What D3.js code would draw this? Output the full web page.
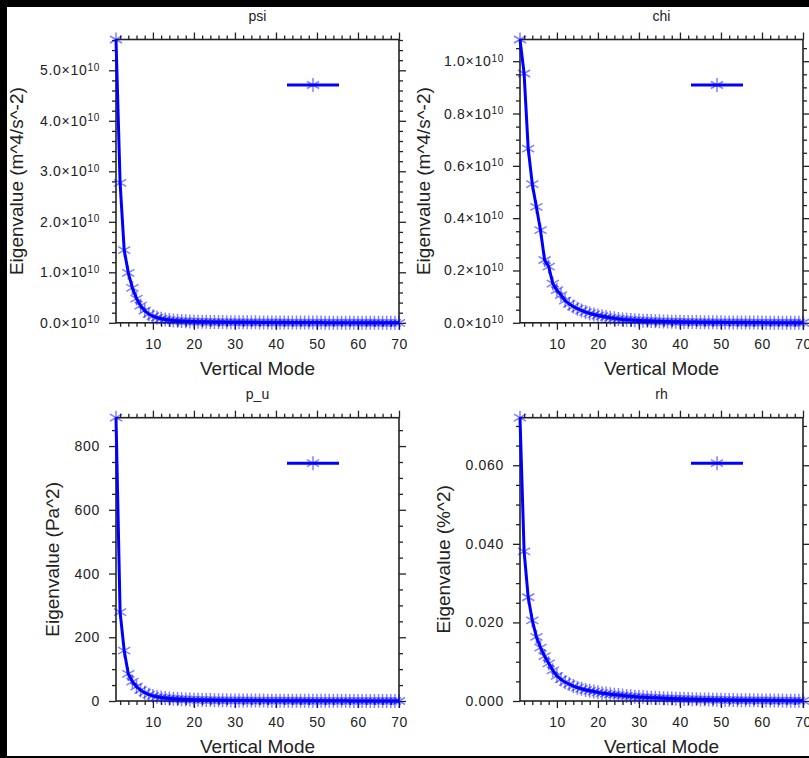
<!DOCTYPE html>
<html>
<head>
<meta charset="utf-8">
<script src="https://cdn.jsdelivr.net/npm/d3@7"></script>
<style>
  body { margin: 0; background: #000; }
  svg { display: block; }
  text { font-family: "Liberation Sans", Arial, Helvetica, sans-serif; fill: #222; }
</style>
</head>
<body>
<svg id="chart" width="809" height="758"></svg>
<script>
// vertical mode numbers 1..70
const modes = d3.range(1, 71);

// eigenvalues (70 per variable)
const psiValues = [
  5.61e10, 2.77e10, 1.44e10, 0.99e10, 0.69e10, 0.48e10, 0.34e10, 0.24e10, 0.17e10, 0.13e10,
  0.10e10, 0.080e10, 0.065e10, 0.054e10, 0.046e10, 0.040e10, 0.035e10, 0.031e10, 0.028e10, 0.025e10,
  0.023e10, 0.021e10, 0.019e10, 0.017e10, 0.016e10, 0.015e10, 0.014e10, 0.013e10, 0.012e10, 0.011e10,
  0.0105e10, 0.010e10, 0.0095e10, 0.009e10, 0.0085e10, 0.008e10, 0.0076e10, 0.0072e10, 0.0068e10, 0.0064e10,
  0.006e10, 0.0057e10, 0.0054e10, 0.0051e10, 0.0048e10, 0.0045e10, 0.0043e10, 0.0041e10, 0.0039e10, 0.0037e10,
  0.0035e10, 0.0033e10, 0.0031e10, 0.0029e10, 0.0027e10, 0.0025e10, 0.0023e10, 0.0021e10, 0.0019e10, 0.0017e10,
  0.0015e10, 0.0013e10, 0.0011e10, 0.0009e10, 0.0007e10, 0.0005e10, 0.0004e10, 0.0003e10, 0.0002e10, 0.0001e10
];
const chiValues = [
  1.083e10, 0.953e10, 0.666e10, 0.530e10, 0.443e10, 0.354e10, 0.240e10, 0.215e10, 0.150e10, 0.125e10,
  0.106e10, 0.085e10, 0.072e10, 0.062e10, 0.054e10, 0.047e10, 0.041e10, 0.036e10, 0.032e10, 0.028e10,
  0.025e10, 0.022e10, 0.019e10, 0.017e10, 0.015e10, 0.013e10, 0.012e10, 0.011e10, 0.010e10, 0.009e10,
  0.0082e10, 0.0075e10, 0.0068e10, 0.0062e10, 0.0057e10, 0.0052e10, 0.0048e10, 0.0044e10, 0.0040e10, 0.0037e10,
  0.0034e10, 0.0031e10, 0.0029e10, 0.0027e10, 0.0025e10, 0.0023e10, 0.0021e10, 0.0019e10, 0.0018e10, 0.0017e10,
  0.0016e10, 0.0015e10, 0.0014e10, 0.0013e10, 0.0012e10, 0.0011e10, 0.0010e10, 0.0009e10, 0.0008e10, 0.0007e10,
  0.0006e10, 0.00055e10, 0.0005e10, 0.00045e10, 0.0004e10, 0.00035e10, 0.0003e10, 0.00025e10, 0.0002e10, 0.00015e10
];
const puValues = [
  889, 279, 158, 85, 61, 45, 34, 26, 20, 16,
  13, 11, 9.5, 8.2, 7.1, 6.2, 5.5, 4.9, 4.4, 4.0,
  3.6, 3.3, 3.0, 2.8, 2.6, 2.4, 2.2, 2.05, 1.9, 1.8,
  1.7, 1.6, 1.5, 1.42, 1.35, 1.28, 1.21, 1.15, 1.09, 1.03,
  0.98, 0.93, 0.88, 0.84, 0.80, 0.76, 0.72, 0.68, 0.65, 0.62,
  0.59, 0.56, 0.53, 0.50, 0.47, 0.44, 0.41, 0.38, 0.35, 0.32,
  0.29, 0.26, 0.23, 0.20, 0.17, 0.14, 0.11, 0.08, 0.05, 0.02
];
const rhValues = [
  0.0721, 0.0381, 0.0264, 0.0205, 0.0163, 0.0136, 0.0114, 0.0096, 0.0078, 0.0064,
  0.0055, 0.0048, 0.0043, 0.0038, 0.0034, 0.0031, 0.0028, 0.0026, 0.0024, 0.0022,
  0.0020, 0.0019, 0.0017, 0.0016, 0.0015, 0.0014, 0.0013, 0.0012, 0.0011, 0.0010,
  0.00095, 0.0009, 0.00085, 0.0008, 0.00075, 0.0007, 0.00066, 0.00062, 0.00058, 0.00055,
  0.00052, 0.00049, 0.00046, 0.00043, 0.0004, 0.00038, 0.00036, 0.00034, 0.00032, 0.0003,
  0.00028, 0.00026, 0.00024, 0.00022, 0.0002, 0.00019, 0.00018, 0.00017, 0.00016, 0.00015,
  0.00014, 0.00013, 0.00012, 0.00011, 0.0001, 0.00009, 0.00008, 0.00007, 0.00006, 0.00005
];

// axis ticks
const xTicks = [10, 20, 30, 40, 50, 60, 70];
const psiTicks = [0, 1e10, 2e10, 3e10, 4e10, 5e10];
const chiTicks = [0, 0.2e10, 0.4e10, 0.6e10, 0.8e10, 1.0e10];
const puTicks = [0, 200, 400, 600, 800];
const rhTicks = [0, 0.02, 0.04, 0.06];

const panels = [
  { title: "psi", ylabel: "Eigenvalue (m^4/s^-2)", values: psiValues, ticks: psiTicks,
    minorStep: 0.2e10, fmt: d => (d / 1e10).toFixed(1), sup: true,
    left: 116, top: 39.5, labelX: 23 },
  { title: "chi", ylabel: "Eigenvalue (m^4/s^-2)", values: chiValues, ticks: chiTicks,
    minorStep: 0.05e10, fmt: d => (d / 1e10).toFixed(1), sup: true,
    left: 520, top: 39.5, labelX: 429.5 },
  { title: "p_u", ylabel: "Eigenvalue (Pa^2)", values: puValues, ticks: puTicks,
    minorStep: 50, fmt: d => d3.format("d")(d), sup: false,
    left: 116, top: 417.7, labelX: 58.5 },
  { title: "rh", ylabel: "Eigenvalue (%^2)", values: rhValues, ticks: rhTicks,
    minorStep: 0.005, fmt: d => d.toFixed(3), sup: false,
    left: 520, top: 417.7, labelX: 450 }
];

const W = 283, H = 283.3;
const svg = d3.select("#chart");

// black surround and white page
svg.append("rect").attr("width", 809).attr("height", 758).attr("fill", "#000");
svg.append("rect").attr("x", 7).attr("y", 7).attr("width", 802).attr("height", 749).attr("fill", "#fff");

// asterisk marker
const r = 7, c30 = Math.cos(Math.PI / 6) * r, s30 = Math.sin(Math.PI / 6) * r;
const star = `M0,${-r}L0,${r}M${-c30},${-s30}L${c30},${s30}M${-c30},${s30}L${c30},${-s30}`;

panels.forEach(p => {
  const g = svg.append("g").attr("transform", `translate(${p.left},${p.top})`);
  const x = d3.scaleLinear().domain([1, 70]).range([0, W]);
  const y = d3.scaleLinear().domain([0, d3.max(p.values)]).range([H, 0]);
  const xMinor = d3.range(2, 71, 2).filter(v => v % 10 !== 0);
  const yMinor = d3.range(0, d3.max(p.values), p.minorStep).filter(v => !p.ticks.some(t => Math.abs(t - v) < p.minorStep / 10));

  const style = sel => {
    sel.select(".domain").remove();
    sel.selectAll("line").attr("stroke", "#222").attr("stroke-width", 1.3);
  };

  // minor ticks
  g.append("g").attr("transform", `translate(0,${H})`).call(d3.axisBottom(x).tickValues(xMinor).tickSize(4).tickFormat("")).call(style);
  g.append("g").call(d3.axisTop(x).tickValues(xMinor).tickSize(4).tickFormat("")).call(style);
  g.append("g").call(d3.axisLeft(y).tickValues(yMinor).tickSize(4).tickFormat("")).call(style);
  g.append("g").attr("transform", `translate(${W},0)`).call(d3.axisRight(y).tickValues(yMinor).tickSize(4).tickFormat("")).call(style);

  // major ticks
  const xb = g.append("g").attr("transform", `translate(0,${H})`)
    .call(d3.axisBottom(x).tickValues(xTicks).tickSize(7).tickPadding(9)).call(style);
  xb.selectAll("text").style("font-size", "14px").style("letter-spacing", "0.5px").attr("fill", "#333");
  g.append("g").call(d3.axisTop(x).tickValues(xTicks).tickSize(7).tickFormat("")).call(style);
  g.append("g").attr("transform", `translate(${W},0)`).call(d3.axisRight(y).tickValues(p.ticks).tickSize(7).tickFormat("")).call(style);
  const yl = g.append("g").call(d3.axisLeft(y).tickValues(p.ticks).tickSize(7).tickPadding(9).tickFormat(p.fmt)).call(style);
  yl.selectAll("text").style("font-size", "14px").style("letter-spacing", "0.7px").attr("fill", "#333");
  if (p.sup) {
    yl.selectAll("text").each(function () {
      const t = d3.select(this);
      const m = t.text();
      t.text(m + "\u00d710");
      t.append("tspan").attr("dy", "-0.45em").style("font-size", "10px").text("10");
    });
  }

  // frame
  g.append("rect").attr("width", W).attr("height", H)
    .attr("fill", "none").attr("stroke", "#222").attr("stroke-width", 1.6);

  // curve
  const pts = modes.map((m, i) => [m, p.values[i]]);
  g.append("path").datum(pts)
    .attr("fill", "none").attr("stroke", "#0000ff").attr("stroke-width", 3)
    .attr("stroke-linejoin", "round")
    .attr("d", d3.line().x(d => x(d[0])).y(d => y(d[1])));

  g.selectAll(".mk").data(pts).join("path")
    .attr("transform", d => `translate(${x(d[0])},${y(d[1])})`)
    .attr("d", star).attr("stroke", "#0000ff").attr("stroke-opacity", 0.5)
    .attr("stroke-width", 1.5).attr("fill", "none");

  // legend (no label text)
  const lg = g.append("g").attr("transform", `translate(171,45.5)`);
  lg.append("line").attr("x1", 0).attr("x2", 52).attr("stroke", "#0000ff").attr("stroke-width", 3);
  lg.append("path").attr("transform", "translate(26,0)").attr("d", star)
    .attr("stroke", "#0000ff").attr("stroke-opacity", 0.5).attr("stroke-width", 1.5);

  // title and axis labels
  g.append("text").attr("x", W / 2).attr("y", -19).attr("text-anchor", "middle")
    .style("font-size", "14px").text(p.title);
  g.append("text").attr("x", W / 2).attr("y", H + 52).attr("text-anchor", "middle")
    .style("font-size", "19px").text("Vertical Mode");
  svg.append("text").attr("transform", `translate(${p.labelX},${p.top + H / 2}) rotate(-90)`)
    .attr("text-anchor", "middle").style("font-size", "19px").text(p.ylabel);
});
</script>
</body>
</html>
